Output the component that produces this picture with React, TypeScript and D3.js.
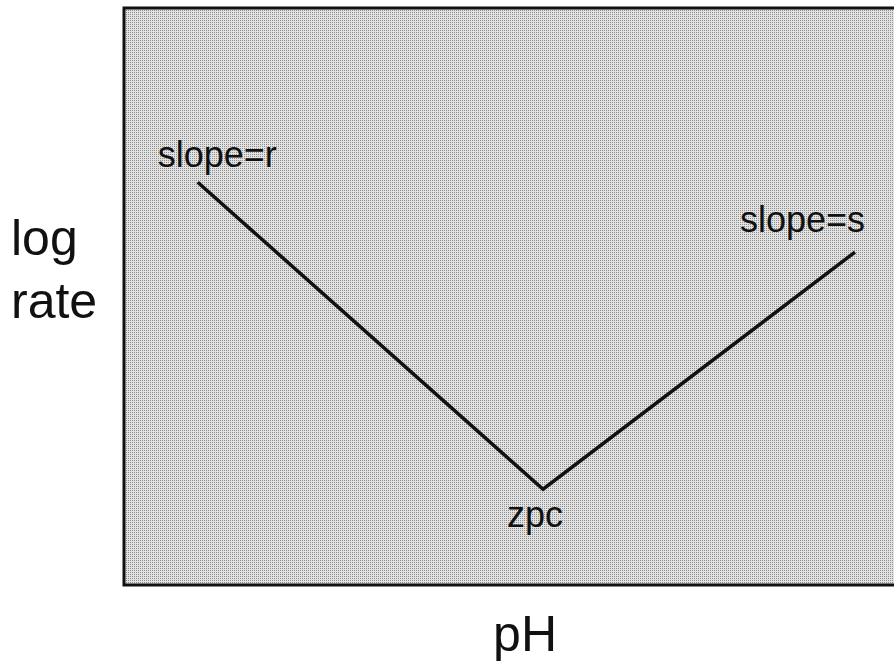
import React, { useEffect, useRef } from 'react';
import * as d3 from 'd3';

// schematic V-shaped rate curve (arbitrary units on both axes)
const phValues = [0.95, 5.4, 9.42];
const logRate = [6.98, 1.66, 5.77];
const pointLabels = ['slope=r', 'zpc', 'slope=s'];
const xTitle = 'pH';
const yTitle = ['log', 'rate'];

const WIDTH = 894;
const HEIGHT = 661;

const App = () => {
  const ref = useRef<SVGSVGElement | null>(null);

  useEffect(() => {
    const node = ref.current;
    if (!node) return;
    const svg = d3.select(node);
    svg.selectAll('*').remove();

    const box = { left: 124, top: 8, right: 900, bottom: 585 };
    const x = d3.scaleLinear().domain([0, 10]).range([box.left, box.right]);
    const y = d3.scaleLinear().domain([0, 10]).range([box.bottom, box.top]);
    const font = '"Liberation Sans", Arial, Helvetica, sans-serif';

    const pattern = svg
      .append('defs')
      .append('pattern')
      .attr('id', 'halftone')
      .attr('width', 2)
      .attr('height', 2)
      .attr('patternUnits', 'userSpaceOnUse');
    pattern.append('rect').attr('width', 2).attr('height', 2).attr('fill', '#e2e2e2');
    pattern.append('rect').attr('width', 1).attr('height', 1).attr('fill', '#8e8e8e');

    svg
      .append('rect')
      .attr('x', box.left)
      .attr('y', box.top)
      .attr('width', box.right - box.left)
      .attr('height', box.bottom - box.top)
      .attr('fill', 'url(#halftone)')
      .attr('stroke', '#111')
      .attr('stroke-width', 3);

    const pts = phValues.map((p, i) => [x(p), y(logRate[i])] as [number, number]);

    svg
      .append('path')
      .attr('d', d3.line()(pts))
      .attr('fill', 'none')
      .attr('stroke', '#111')
      .attr('stroke-width', 3.5)
      .attr('stroke-linejoin', 'miter');

    const labelPos = [
      { dx: -40, dy: -15, anchor: 'start' },
      { dx: -8, dy: 38, anchor: 'middle' },
      { dx: 10, dy: -20, anchor: 'end' },
    ];

    svg
      .selectAll('text.pt-label')
      .data(pointLabels)
      .enter()
      .append('text')
      .attr('class', 'pt-label')
      .attr('x', (d, i) => pts[i][0] + labelPos[i].dx)
      .attr('y', (d, i) => pts[i][1] + labelPos[i].dy)
      .attr('text-anchor', (d, i) => labelPos[i].anchor)
      .style('font-family', font)
      .style('font-size', '36px')
      .style('fill', '#111')
      .text((d) => d);

    svg
      .append('text')
      .attr('x', x(5.4) - 18)
      .attr('y', 651)
      .attr('text-anchor', 'middle')
      .style('font-family', font)
      .style('font-size', '50px')
      .style('fill', '#111')
      .text(xTitle);

    svg
      .selectAll('text.y-title')
      .data(yTitle)
      .enter()
      .append('text')
      .attr('class', 'y-title')
      .attr('x', 11)
      .attr('y', (d, i) => 255 + i * 63)
      .style('font-family', font)
      .style('font-size', '50px')
      .style('fill', '#111')
      .text((d) => d);
  }, []);

  return (
    <svg
      ref={ref}
      width={WIDTH}
      height={HEIGHT}
      style={{ position: 'absolute', left: 0, top: 0, background: '#fff' }}
    />
  );
};

export default App;
